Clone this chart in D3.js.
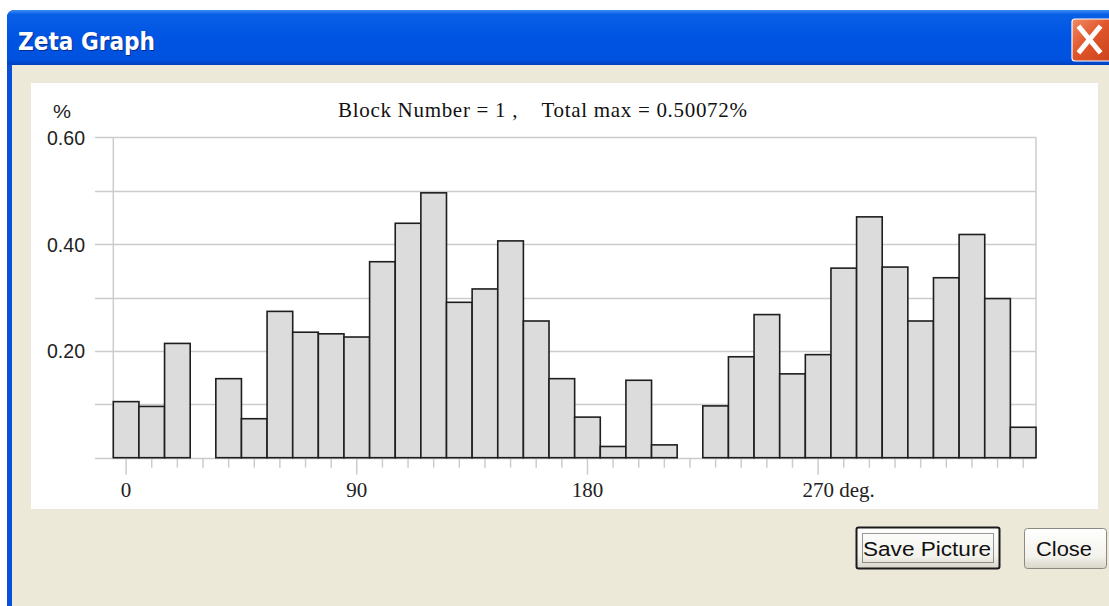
<!DOCTYPE html>
<html>
<head>
<meta charset="utf-8">
<script src="https://cdn.jsdelivr.net/npm/d3@7"></script>
<style>
  html, body { margin: 0; padding: 0; background: #ffffff; }
  svg { display: block; }
</style>
</head>
<body>
<svg id="win" width="1109" height="606"></svg>
<script>
// Angular bins (bin centre, degrees) and the share of samples in each bin (%)
const binCenters = d3.range(0, 360, 10);
const binValues = [
  0.105, 0.096, 0.214, 0,     0.148, 0.073, 0.274, 0.235, 0.232, 0.226,
  0.367, 0.439, 0.496, 0.291, 0.316, 0.406, 0.256, 0.148, 0.076, 0.021,
  0.145, 0.024, 0,     0.097, 0.189, 0.268, 0.157, 0.193, 0.355, 0.451,
  0.357, 0.256, 0.337, 0.418, 0.298, 0.057
];
const yTicks = [0.2, 0.4, 0.6];
const yGrid = [0.1, 0.2, 0.3, 0.4, 0.5, 0.6];
const xLabelDegs = [0, 90, 180, 270];
const xLabels = ["0", "90", "180", "270"];
const xUnit = " deg.";
const blockNumber = 1;
const totalMax = "0.50072";

const svg = d3.select("#win");

// ---------- window chrome ----------
const defs = svg.append("defs");
const tg = defs.append("linearGradient").attr("id", "titleGrad")
  .attr("x1", 0).attr("y1", 0).attr("x2", 0).attr("y2", 1);
tg.append("stop").attr("offset", "0").attr("stop-color", "#3d8cf5");
tg.append("stop").attr("offset", "0.08").attr("stop-color", "#0a5fe6");
tg.append("stop").attr("offset", "0.5").attr("stop-color", "#0054e3");
tg.append("stop").attr("offset", "0.9").attr("stop-color", "#0052de");
tg.append("stop").attr("offset", "1").attr("stop-color", "#003fc0");

const cg = defs.append("linearGradient").attr("id", "closeGrad")
  .attr("x1", 0).attr("y1", 0).attr("x2", 1).attr("y2", 1);
cg.append("stop").attr("offset", "0").attr("stop-color", "#f08a66");
cg.append("stop").attr("offset", "0.45").attr("stop-color", "#e0552a");
cg.append("stop").attr("offset", "1").attr("stop-color", "#c8401c");

const bg = defs.append("linearGradient").attr("id", "btnGrad")
  .attr("x1", 0).attr("y1", 0).attr("x2", 0).attr("y2", 1);
bg.append("stop").attr("offset", "0").attr("stop-color", "#ffffff");
bg.append("stop").attr("offset", "0.7").attr("stop-color", "#f3f2ec");
bg.append("stop").attr("offset", "1").attr("stop-color", "#d8d5c8");

// window frame (blue) and client area (beige)
svg.append("path")
  .attr("d", "M7,606 L7,18 Q7,10 15,10 L1109,10 L1109,606 Z")
  .attr("fill", "#0a4fd8");
svg.append("path")
  .attr("d", "M7,65 L7,18 Q7,10 15,10 L1109,10 L1109,65 Z")
  .attr("fill", "url(#titleGrad)");
svg.append("rect").attr("x", 12).attr("y", 65).attr("width", 1097).attr("height", 541)
  .attr("fill", "#ece9d8");

// title text with shadow
svg.append("text").attr("x", 19).attr("y", 51)
  .attr("font-family", "DejaVu Sans").attr("font-weight", "bold").attr("font-size", 24)
  .attr("textLength", 137).attr("lengthAdjust", "spacingAndGlyphs")
  .attr("fill", "#0a2a8a").text("Zeta Graph");
svg.append("text").attr("x", 18).attr("y", 50)
  .attr("font-family", "DejaVu Sans").attr("font-weight", "bold").attr("font-size", 24)
  .attr("textLength", 137).attr("lengthAdjust", "spacingAndGlyphs")
  .attr("fill", "#ffffff").text("Zeta Graph");

// close box
svg.append("rect").attr("x", 1072).attr("y", 19).attr("width", 44).attr("height", 42).attr("rx", 3)
  .attr("fill", "url(#closeGrad)").attr("stroke", "#ffffff").attr("stroke-width", 1.2);
svg.append("path")
  .attr("d", "M1080,28 L1099,51 M1099,28 L1080,51")
  .attr("stroke", "#ffffff").attr("stroke-width", 5).attr("stroke-linecap", "square");

// ---------- chart panel ----------
svg.append("rect").attr("x", 31).attr("y", 83).attr("width", 1067).attr("height", 426)
  .attr("fill", "#ffffff");

const x = d3.scaleLinear().domain([-5, 355]).range([113.3, 1036]);
const y = d3.scaleLinear().domain([0, 0.6]).range([457.7, 137.3]);
const gridLeft = 95;
const gridColor = "#cccccc";

const g = svg.append("g");

// horizontal grid lines (including the baseline)
g.selectAll("line.grid").data([0].concat(yGrid)).join("line")
  .attr("class", "grid")
  .attr("x1", gridLeft).attr("x2", x(355))
  .attr("y1", d => Math.round(y(d)) + 0.5).attr("y2", d => Math.round(y(d)) + 0.5)
  .attr("stroke", gridColor).attr("stroke-width", 1.5);

// left and right frame lines
g.selectAll("line.vframe").data([-5, 355]).join("line")
  .attr("class", "vframe")
  .attr("x1", d => x(d)).attr("x2", d => x(d))
  .attr("y1", y(0.6)).attr("y2", y(0))
  .attr("stroke", gridColor).attr("stroke-width", 1.5);

// tick marks every 10 degrees, longer at the quarter angles
g.selectAll("line.tick").data(binCenters).join("line")
  .attr("class", "tick")
  .attr("x1", d => x(d)).attr("x2", d => x(d))
  .attr("y1", y(0)).attr("y2", d => y(0) + (d % 90 === 0 ? 17 : 10))
  .attr("stroke", gridColor).attr("stroke-width", 1.5);

// bars
g.selectAll("rect.bar").data(binCenters.map((c, i) => ({ c, v: binValues[i] })).filter(d => d.v > 0))
  .join("rect")
  .attr("class", "bar")
  .attr("x", d => x(d.c - 5))
  .attr("width", d => x(d.c + 5) - x(d.c - 5))
  .attr("y", d => y(d.v))
  .attr("height", d => y(0) - y(d.v))
  .attr("fill", "#dcdcdc").attr("stroke", "#1e1e1e").attr("stroke-width", 1.6);

// y tick labels
g.selectAll("text.ylab").data(yTicks).join("text")
  .attr("class", "ylab")
  .attr("x", 85).attr("y", d => y(d) + 7.5)
  .attr("text-anchor", "end")
  .attr("font-family", "Liberation Sans").attr("font-size", 21)
  .attr("textLength", 38).attr("lengthAdjust", "spacingAndGlyphs")
  .attr("fill", "#222").text(d => d.toFixed(2));

svg.append("text").attr("x", 53).attr("y", 118)
  .attr("font-family", "Liberation Sans").attr("font-size", 19)
  .attr("textLength", 18).attr("lengthAdjust", "spacingAndGlyphs")
  .attr("fill", "#222").text("%");

// x tick labels
const xl = g.selectAll("text.xlab").data(xLabelDegs).join("text")
  .attr("class", "xlab")
  .attr("y", 497)
  .attr("font-family", "Liberation Serif").attr("font-size", 21)
  .attr("fill", "#222")
  .text((d, i) => xLabels[i]);
xl.each(function (d, i) {
  const t = d3.select(this);
  const w = this.getComputedTextLength();
  t.attr("x", x(d) - w / 2);
  if (i === xLabels.length - 1) t.text(xLabels[i] + xUnit);
});

// chart heading
svg.append("text").attr("x", 338).attr("y", 117)
  .attr("font-family", "Liberation Serif").attr("font-size", 21)
  .attr("xml:space", "preserve").style("white-space", "pre")
  .attr("textLength", 409).attr("lengthAdjust", "spacing")
  .attr("fill", "#111")
  .text(`Block Number = ${blockNumber} ,    Total max = ${totalMax}%`);

// ---------- buttons ----------
// default button
svg.append("rect").attr("x", 856.5).attr("y", 527.5).attr("width", 143).attr("height", 41).attr("rx", 2)
  .attr("fill", "url(#btnGrad)").attr("stroke", "#1a1a1a").attr("stroke-width", 2);
svg.append("rect").attr("x", 862.5).attr("y", 533.5).attr("width", 131).attr("height", 29)
  .attr("fill", "none").attr("stroke", "#333").attr("stroke-width", 1).attr("stroke-dasharray", "1,1");
svg.append("text").attr("x", 863).attr("y", 556)
  .attr("font-family", "Liberation Sans").attr("font-size", 20)
  .attr("textLength", 128).attr("lengthAdjust", "spacingAndGlyphs")
  .attr("fill", "#111").text("Save Picture");

svg.append("rect").attr("x", 1024.5).attr("y", 528.5).attr("width", 82).attr("height", 40).attr("rx", 3)
  .attr("fill", "url(#btnGrad)").attr("stroke", "#8a8a80").attr("stroke-width", 1);
svg.append("text").attr("x", 1036).attr("y", 556)
  .attr("font-family", "Liberation Sans").attr("font-size", 20)
  .attr("textLength", 56).attr("lengthAdjust", "spacingAndGlyphs")
  .attr("fill", "#111").text("Close");
</script>
</body>
</html>
